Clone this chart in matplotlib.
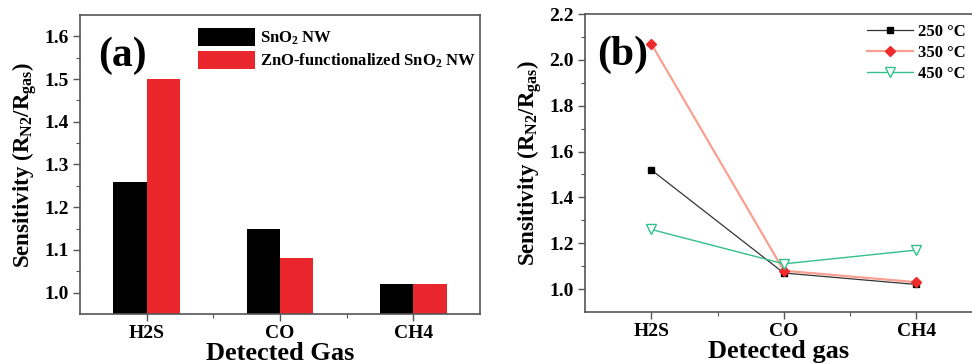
import matplotlib
matplotlib.use("Agg")
import matplotlib.pyplot as plt
import numpy as np

gases = ["H2S", "CO", "CH4"]
sno2 = [1.26, 1.15, 1.02]
zno_sno2 = [1.50, 1.08, 1.02]

t250 = [1.52, 1.07, 1.02]
t350 = [2.07, 1.08, 1.03]
t450 = [1.26, 1.11, 1.17]

plt.rcParams['font.family'] = ['Liberation Serif', 'DejaVu Serif']
plt.rcParams['font.weight'] = 'bold'
plt.rcParams['axes.labelweight'] = 'bold'
plt.rcParams['mathtext.fontset'] = 'custom'
plt.rcParams['mathtext.rm'] = 'Liberation Serif:bold'
plt.rcParams['mathtext.bf'] = 'Liberation Serif:bold'
plt.rcParams['mathtext.it'] = 'Liberation Serif:bold'
plt.rcParams['axes.edgecolor'] = '#555555'

fig = plt.figure(figsize=(9.72, 3.64), dpi=100)
ax1 = fig.add_axes([0.0823, 0.1374, 0.4115, 0.8214])
ax2 = fig.add_axes([0.6019, 0.1429, 0.3981, 0.8186])

x = np.arange(len(gases))
w = 0.25
ax1.bar(x - w / 2, sno2, w, color='black', label='SnO$_2$ NW')
ax1.bar(x + w / 2, zno_sno2, w, color='#e8262b', label='ZnO-functionalized SnO$_2$ NW')
ax1.set_xlim(-0.5, 2.5)
ax1.set_ylim(0.95, 1.65)
ax1.set_yticks([1.0, 1.1, 1.2, 1.3, 1.4, 1.5, 1.6])
ax1.set_yticks(np.arange(1.0, 1.65, 0.05), minor=True)
ax1.set_xticks(x)
ax1.set_xticks([0.5, 1.5], minor=True)
ax1.set_xticklabels(gases)
ax1.set_xlabel("Detected Gas", fontsize=19, labelpad=0)
ax1.set_ylabel("Sensitivity (R$_{N2}$/R$_{gas}$)", fontsize=16.5, labelpad=4)
ax1.text(0.045, 0.83, "(a)", transform=ax1.transAxes, fontsize=30, fontweight='bold')
ax1.legend(loc='upper left', bbox_to_anchor=(0.27, 0.99), frameon=False, fontsize=12,
           handlelength=3.4, handleheight=1.3, handletextpad=0.3, labelspacing=0.25,
           borderaxespad=0.2)

ax2.plot(x, t250, '-', color='#333333', lw=0.9, marker='s', ms=4,
         mfc='black', mec='black', label='250 °C')
ax2.plot(x, t350, '-', color='#f8a090', lw=1.6, marker='D', ms=5,
         mfc='#ee2a2a', mec='#ee2a2a', label='350 °C')
ax2.plot(x, t450, '-', color='#33c08a', lw=1.0, marker='v', ms=7,
         mfc='white', mec='#33c08a', label='450 °C')
ax2.set_xlim(-0.5, 2.42)
ax2.set_ylim(0.9, 2.2)
ax2.set_yticks([1.0, 1.2, 1.4, 1.6, 1.8, 2.0, 2.2])
ax2.set_yticks(np.arange(1.0, 2.21, 0.1), minor=True)
ax2.set_xticks(x)
ax2.set_xticks([0.5, 1.5], minor=True)
ax2.set_xticklabels(gases)
ax2.spines['right'].set_visible(False)
ax2.set_xlabel("Detected gas", fontsize=19, labelpad=0)
ax2.set_ylabel("Sensitivity (R$_{N2}$/R$_{gas}$)", fontsize=16.5, labelpad=4)
ax2.text(0.03, 0.83, "(b)", transform=ax2.transAxes, fontsize=30, fontweight='bold')
ax2.legend(loc='upper right', bbox_to_anchor=(1.01, 1.0), frameon=False, fontsize=12,
           handlelength=2.8, handletextpad=0.3, labelspacing=0.3, borderaxespad=0.2)

for ax in (ax1, ax2):
    ax.tick_params(which='major', direction='out', length=5, width=1, labelsize=14,
                   color='#555555', pad=3)
    ax.tick_params(which='minor', direction='out', length=3, width=0.8, color='#555555')
    ax.tick_params(axis='x', which='major', labelsize=14)
    for lab in ax.get_xticklabels() + ax.get_yticklabels():
        lab.set_fontweight('bold')
    for s in ax.spines.values():
        s.set_linewidth(1.2)

fig.savefig("out.png", dpi=100)
